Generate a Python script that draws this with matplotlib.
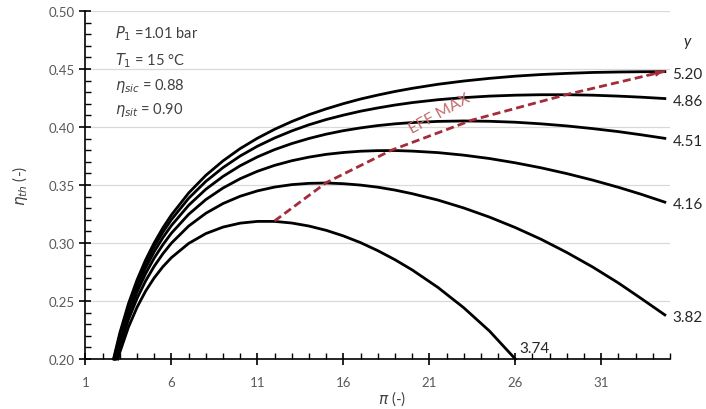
import matplotlib
matplotlib.use('Agg')
import matplotlib.pyplot as plt

# pressure ratio grid shared by the curves
pi_grid = [3, 3.5, 4, 4.5, 5, 5.5, 6, 7, 8, 9, 10, 11, 12, 13, 14, 15, 16, 17, 18, 19,
           20, 21.5, 23, 24.5, 26, 27.5, 29, 30.5, 32, 33.3, 34.7]

labels = ['5.20', '4.86', '4.51', '4.16', '3.82', '3.74']
start_pi = [2.63, 2.65, 2.69, 2.73, 2.79, 2.89]   # where each curve leaves eta = 0.20

eta_520 = [0.2226, 0.2477, 0.2682, 0.2855, 0.3002, 0.3130, 0.3242, 0.3431, 0.3583, 0.3708,
           0.3814, 0.3903, 0.3980, 0.4047, 0.4106, 0.4156, 0.4201, 0.4241, 0.4275, 0.4306,
           0.4333, 0.4368, 0.4396, 0.4419, 0.4438, 0.4452, 0.4462, 0.4470, 0.4474, 0.4476, 0.4477]
eta_486 = [0.2207, 0.2453, 0.2655, 0.2824, 0.2969, 0.3093, 0.3202, 0.3385, 0.3531, 0.3650,
           0.3750, 0.3834, 0.3905, 0.3966, 0.4019, 0.4064, 0.4102, 0.4136, 0.4164, 0.4189,
           0.4210, 0.4235, 0.4253, 0.4266, 0.4274, 0.4278, 0.4278, 0.4274, 0.4266, 0.4257, 0.4245]
eta_451 = [0.2182, 0.2424, 0.2621, 0.2786, 0.2926, 0.3046, 0.3151, 0.3325, 0.3463, 0.3574,
           0.3666, 0.3742, 0.3805, 0.3857, 0.3901, 0.3938, 0.3968, 0.3992, 0.4012, 0.4027,
           0.4038, 0.4048, 0.4052, 0.4049, 0.4041, 0.4027, 0.4009, 0.3986, 0.3960, 0.3933, 0.3902]
eta_416 = [0.2151, 0.2387, 0.2578, 0.2737, 0.2871, 0.2985, 0.3085, 0.3247, 0.3374, 0.3474,
           0.3554, 0.3618, 0.3669, 0.3709, 0.3740, 0.3764, 0.3780, 0.3791, 0.3796, 0.3797,
           0.3792, 0.3779, 0.3757, 0.3728, 0.3691, 0.3648, 0.3598, 0.3542, 0.3480, 0.3421, 0.3352]
eta_382 = [0.2112, 0.2340, 0.2523, 0.2674, 0.2800, 0.2907, 0.2999, 0.3146, 0.3256, 0.3340,
           0.3403, 0.3449, 0.3482, 0.3503, 0.3514, 0.3517, 0.3511, 0.3499, 0.3481, 0.3456,
           0.3425, 0.3370, 0.3302, 0.3223, 0.3133, 0.3032, 0.2918, 0.2793, 0.2655, 0.2524, 0.2380]
eta_374 = [0.2059, 0.2275, 0.2446, 0.2586, 0.2700, 0.2795, 0.2874, 0.2996, 0.3081, 0.3137,
           0.3171, 0.3186, 0.3186, 0.3172, 0.3146, 0.3109, 0.3061, 0.3003, 0.2934, 0.2856,
           0.2768, 0.2617, 0.2442, 0.2241, 0.2000]
curves = [eta_520, eta_486, eta_451, eta_416, eta_382, eta_374]

# locus of maximum efficiency
eff_pi = [12.0, 15.0, 18.8, 23.5, 29.0, 34.7]
eff_eta = [0.319, 0.352, 0.380, 0.406, 0.428, 0.448]

x_ticks = [1, 6, 11, 16, 21, 26, 31]
y_ticks = [0.20, 0.25, 0.30, 0.35, 0.40, 0.45, 0.50]

plt.rcParams['font.family'] = ['Lato', 'DejaVu Sans']
plt.rcParams['mathtext.fontset'] = 'dejavusans'

fig = plt.figure(figsize=(7.06, 4.10), dpi=100)
ax = fig.add_axes([0.1211, 0.1220, 0.8279, 0.8488])

for y in y_ticks:
    ax.axhline(y, color='#d9d9d9', lw=0.9, zorder=0)

for lab, p0, eta in zip(labels, start_pi, curves):
    xs = [p0] + pi_grid[:len(eta)]
    ys = [0.20] + eta
    ax.plot(xs, ys, color='black', lw=2.0, zorder=3, clip_on=False,
            solid_joinstyle='round')
    if lab == '3.74':
        ax.text(xs[-1] + 0.25, ys[-1] + 0.003, lab, fontsize=11, color='#262626',
                ha='left', va='bottom')
    else:
        ax.text(xs[-1] + 0.45, ys[-1] - 0.002, lab, fontsize=11, color='#262626',
                ha='left', va='center', clip_on=False)

red = '#a52a3a'
ax.plot(eff_pi, eff_eta, color=red, lw=2.0, ls=(0, (2.9, 1.5)), zorder=4, clip_on=False)
ax.annotate('', xy=(eff_pi[-1], eff_eta[-1]), xytext=(eff_pi[-2] + 4.5, eff_eta[-1] - 0.004),
            arrowprops=dict(arrowstyle='-|>', color=red, lw=1, mutation_scale=9),
            zorder=5)
ax.text(21.6, 0.4115, 'EFF MAX', rotation=29, color='#c46a6a', fontsize=11.5,
        ha='center', va='center', rotation_mode='anchor')

ax.text(36.0, 0.474, 'y', fontsize=11, style='italic', color='#262626', ha='center', va='center')

info = [r'$P_1$ =1.01 bar', r'$T_1$ = 15 °C', r'$\eta_{sic}$ = 0.88', r'$\eta_{sit}$ = 0.90']
info_y = [0.937, 0.859, 0.787, 0.718]
for t, yy in zip(info, info_y):
    ax.text(0.05, yy, t, transform=ax.transAxes, fontsize=10.5, color='#404040',
            ha='left', va='center')

ax.set_xlim(1, 35)
ax.set_ylim(0.20, 0.50)
ax.set_xticks(x_ticks)
ax.set_xticks(range(1, 36), minor=True)
ax.set_yticks(y_ticks)
ax.set_yticks([0.20 + 0.01 * i for i in range(31)], minor=True)
ax.set_yticklabels(['%.2f' % v for v in y_ticks])

for s in ['top', 'right']:
    ax.spines[s].set_visible(False)
for s in ['left', 'bottom']:
    ax.spines[s].set_linewidth(1.2)

ax.tick_params(which='major', direction='inout', length=8, width=1.2,
               labelsize=9.5, labelcolor='#595959')
ax.tick_params(axis='x', which='major', pad=8)
ax.tick_params(axis='y', which='major', pad=4)
ax.tick_params(which='minor', direction='in', length=4, width=1.0)

ax.set_xlabel(r'$\pi$ (-)', fontsize=11, color='#404040')
ax.xaxis.set_label_coords(0.524, -0.085)
ax.set_ylabel(r'$\eta_{th}$ (-)', fontsize=11, color='#404040')
ax.yaxis.set_label_coords(-0.095, 0.5)

fig.savefig('out.png', dpi=100)
